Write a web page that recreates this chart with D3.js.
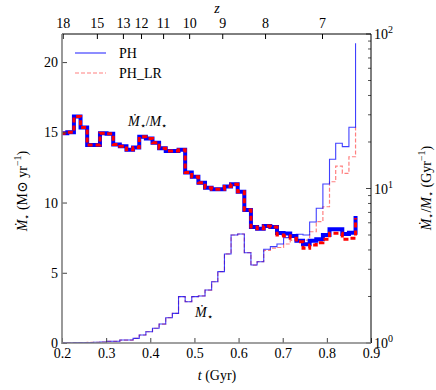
<!DOCTYPE html>
<html>
<head>
<meta charset="utf-8">
<script src="https://cdn.jsdelivr.net/npm/d3@7"></script>
<style>
  body { margin: 0; background: #fff; }
  svg { display: block; }
  text { font-family: "Liberation Serif", "DejaVu Serif", serif; fill: #000; }
</style>
</head>
<body>
<script>
// bin edges in cosmic time (Gyr), 46 edges -> 45 bins + closing edge
const tEdges = [0.197, 0.212, 0.227, 0.242, 0.257, 0.271, 0.286, 0.301, 0.316, 0.331,
                0.346, 0.361, 0.375, 0.390, 0.405, 0.420, 0.435, 0.450, 0.464, 0.479,
                0.494, 0.509, 0.524, 0.539, 0.553, 0.568, 0.583, 0.598, 0.613, 0.628,
                0.642, 0.657, 0.672, 0.687, 0.702, 0.717, 0.731, 0.746, 0.761, 0.776,
                0.791, 0.806, 0.820, 0.835, 0.850, 0.865];

// star formation rate (Msun/yr), left axis
const sfrPH = [0.02, 0.02, 0.03, 0.03, 0.04, 0.05, 0.07, 0.12, 0.12, 0.21,
               0.21, 0.33, 0.57, 0.80, 1.05, 1.35, 1.80, 2.11, 3.30, 2.94,
               3.30, 3.35, 3.77, 4.36, 5.08, 6.34, 7.69, 7.76, 6.43, 5.55,
               5.79, 6.67, 6.86, 7.05, 7.50, 7.53, 7.74, 7.69, 8.62, 9.59,
               11.32, 13.08, 14.22, 13.98, 15.36, 21.34];
const sfrLR = [0.02, 0.02, 0.03, 0.03, 0.04, 0.05, 0.07, 0.12, 0.12, 0.21,
               0.21, 0.33, 0.57, 0.80, 1.05, 1.35, 1.80, 2.11, 3.30, 2.94,
               3.30, 3.35, 3.77, 4.36, 5.08, 6.34, 7.69, 7.76, 6.43, 5.55,
               5.79, 6.60, 6.75, 6.80, 7.05, 7.30, 7.33, 7.33, 7.92, 8.64,
               9.70, 11.48, 12.60, 12.08, 13.26, 15.40];

// specific SFR (1/Gyr), right log axis
const ssfrPH = [22.8, 23.1, 29.2, 24.8, 19.1, 19.1, 22.8, 22.6, 19.3, 18.8,
                17.8, 18.4, 21.6, 21.1, 19.8, 18.2, 17.5, 17.5, 17.8, 12.7,
                11.9, 10.9, 10.1, 9.88, 9.88, 10.3, 10.65, 9.53, 7.26, 5.63,
                5.48, 5.72, 5.63, 5.15, 5.11, 4.93, 4.59, 4.35, 4.59, 4.69,
                5.00, 5.44, 5.44, 5.08, 5.18, 6.64];
const ssfrLR = [22.8, 23.1, 29.2, 24.8, 19.1, 19.1, 22.8, 22.6, 19.3, 18.8,
                17.8, 18.4, 21.6, 21.1, 19.8, 18.2, 17.5, 17.5, 17.8, 12.7,
                11.9, 10.9, 10.1, 9.88, 9.88, 10.3, 10.65, 9.53, 7.26, 5.63,
                5.48, 5.72, 5.63, 5.00, 4.93, 4.76, 4.52, 4.10, 4.31, 4.46,
                4.69, 5.13, 5.13, 4.69, 4.76, 6.44];

const xTicks = [0.2, 0.3, 0.4, 0.5, 0.6, 0.7, 0.8, 0.9];
const yTicks = [0, 5, 10, 15, 20];
const zLabels = ['18', '15', '13', '12', '11', '10', '9', '8', '7'];
const zTimes = [0.2016, 0.279, 0.338, 0.379, 0.429, 0.488, 0.563, 0.660, 0.789];

const width = 436, height = 390;
const mLeft = 62, mRight = 371, mTop = 34, mBottom = 343;
const fs = 14;

const svg = d3.select('body').append('svg')
    .attr('width', width).attr('height', height);

const x = d3.scaleLinear().domain([0.2, 0.9]).range([mLeft, mRight]);
const yL = d3.scaleLinear().domain([0, 22]).range([mBottom, mTop]);
const yR = d3.scaleLog().domain([1, 100]).range([mBottom, mTop]);

svg.append('clipPath').attr('id', 'plotclip')
  .append('rect').attr('x', mLeft).attr('y', mTop)
  .attr('width', mRight - mLeft).attr('height', mBottom - mTop);

const plot = svg.append('g').attr('clip-path', 'url(#plotclip)');

const stepLine = (yScale, vals) => d3.line()
    .x((d, i) => x(tEdges[i]))
    .y(d => yScale(d))
    .curve(d3.curveStepAfter)(vals);

// thin SFR curves (red dashed underneath, blue on top)
plot.append('path').attr('d', stepLine(yL, sfrLR))
    .attr('fill', 'none').attr('stroke', '#ff0000')
    .attr('stroke-opacity', 0.5).attr('stroke-width', 1.2)
    .attr('stroke-dasharray', '4,2');
plot.append('path').attr('d', stepLine(yL, sfrPH))
    .attr('fill', 'none').attr('stroke', '#0000ff')
    .attr('stroke-opacity', 0.75).attr('stroke-width', 1.1);

// thick sSFR curves
plot.append('path').attr('d', stepLine(yR, ssfrPH))
    .attr('fill', 'none').attr('stroke', '#0000ff').attr('stroke-width', 4);
plot.append('path').attr('d', stepLine(yR, ssfrLR))
    .attr('fill', 'none').attr('stroke', '#ff0000').attr('stroke-width', 3)
    .attr('stroke-dasharray', '5,3');

// axes
const styleAxis = (g, col) => {
  g.select('.domain').remove();
  g.selectAll('.tick line').attr('stroke', col);
  g.selectAll('.tick text')
    .attr('font-family', '"Liberation Serif", serif')
    .attr('font-size', fs).attr('fill', '#000');
};

svg.append('g').attr('transform', `translate(0,${mBottom})`)
  .call(d3.axisBottom(x).tickValues(xTicks).tickFormat(d3.format('.1f'))
        .tickSize(-5).tickPadding(5))
  .call(g => styleAxis(g, '#444'));

svg.append('g').attr('transform', `translate(${mLeft},0)`)
  .call(d3.axisLeft(yL).tickValues(yTicks).tickSize(-5).tickPadding(4))
  .call(g => styleAxis(g, '#444'));

svg.append('g').attr('transform', `translate(0,${mTop})`)
  .call(d3.axisTop(x).tickValues(zTimes).tickFormat((d, i) => zLabels[i])
        .tickSize(-5).tickPadding(6))
  .call(g => styleAxis(g, '#000'));

// right log axis
const rAxis = svg.append('g').attr('transform', `translate(${mRight},0)`);
const minors = [];
[1, 10].forEach(b => d3.range(2, 10).forEach(m => minors.push(b * m)));
rAxis.selectAll('line.minor').data(minors).join('line').attr('class', 'minor')
  .attr('x1', 0).attr('x2', -3)
  .attr('y1', d => yR(d)).attr('y2', d => yR(d))
  .attr('stroke', '#555');
rAxis.selectAll('line.major').data([1, 10, 100]).join('line').attr('class', 'major')
  .attr('x1', 0).attr('x2', -5)
  .attr('y1', d => yR(d)).attr('y2', d => yR(d))
  .attr('stroke', '#444');
const rt = rAxis.selectAll('text.rl').data([1, 10, 100]).join('text').attr('class', 'rl')
  .attr('x', 3).attr('y', d => yR(d) + 5)
  .attr('font-size', fs);
rt.append('tspan').text('10');
rt.append('tspan').attr('dy', -6).attr('font-size', 10)
  .text(d => Math.round(Math.log10(d)));

// spines
svg.append('line').attr('x1', mLeft).attr('x2', mRight).attr('y1', mTop).attr('y2', mTop)
  .attr('stroke', '#000').attr('stroke-width', 1);
svg.append('line').attr('x1', mRight).attr('x2', mRight).attr('y1', mTop).attr('y2', mBottom)
  .attr('stroke', '#000').attr('stroke-width', 1);
svg.append('line').attr('x1', mLeft).attr('x2', mLeft).attr('y1', mTop).attr('y2', mBottom + 1)
  .attr('stroke', '#808080').attr('stroke-width', 1.6);
svg.append('line').attr('x1', mLeft).attr('x2', mRight).attr('y1', mBottom).attr('y2', mBottom)
  .attr('stroke', '#808080').attr('stroke-width', 1.6);

// math-ish text helper
function mathText(sel, parts) {
  parts.forEach(p => {
    const ts = sel.append('tspan').text(p.t);
    if (p.i) ts.attr('font-style', 'italic');
    if (p.sub) ts.attr('dy', 3).attr('font-size', 10);
    if (p.sup) ts.attr('dy', -6).attr('font-size', 10);
    if (p.back) ts.attr('dy', p.back);
  });
}
const mdot = [{t: 'M\u0307', i: true}, {t: '\u22c6', sub: true}];

// axis labels
const ll = svg.append('text').attr('transform', 'translate(27,191) rotate(-90)')
  .attr('text-anchor', 'middle').attr('font-size', fs);
mathText(ll, [...mdot, {t: ' (M', back: -3}, {t: '\u2299'}, {t: ' yr'},
              {t: '\u22121', sup: true}, {t: ')', back: 6}]);

const rl = svg.append('text').attr('transform', 'translate(431,188) rotate(-90)')
  .attr('text-anchor', 'middle').attr('font-size', fs);
mathText(rl, [...mdot, {t: '/', back: -3}, {t: 'M', i: true}, {t: '\u22c6', sub: true},
              {t: ' (Gyr', back: -3}, {t: '\u22121', sup: true}, {t: ')', back: 6}]);

const bl = svg.append('text').attr('x', 217).attr('y', 380)
  .attr('text-anchor', 'middle').attr('font-size', fs);
mathText(bl, [{t: 't', i: true}, {t: ' (Gyr)'}]);

svg.append('text').attr('x', 217).attr('y', 13).attr('text-anchor', 'middle')
  .attr('font-size', fs).attr('font-style', 'italic').text('z');

// curve annotations
const a1 = svg.append('text').attr('x', 128).attr('y', 126).attr('font-size', fs);
mathText(a1, [...mdot, {t: '/', back: -3}, {t: 'M', i: true}, {t: '\u22c6', sub: true}]);
const a2 = svg.append('text').attr('x', 195).attr('y', 317).attr('font-size', fs);
mathText(a2, mdot);

// legend
const legend = [
  {name: 'PH', color: '#0000ff', op: 0.75, dash: null, y: 53},
  {name: 'PH_LR', color: '#ff0000', op: 0.5, dash: '4,2', y: 73}
];
const lg = svg.selectAll('g.leg').data(legend).join('g').attr('class', 'leg');
lg.append('line').attr('x1', 75).attr('x2', 106)
  .attr('y1', d => d.y).attr('y2', d => d.y)
  .attr('stroke', d => d.color).attr('stroke-opacity', d => d.op)
  .attr('stroke-width', 1.2).attr('stroke-dasharray', d => d.dash);
lg.append('text').attr('x', 119).attr('y', d => d.y + 5)
  .attr('font-size', fs).text(d => d.name);
</script>
</body>
</html>
